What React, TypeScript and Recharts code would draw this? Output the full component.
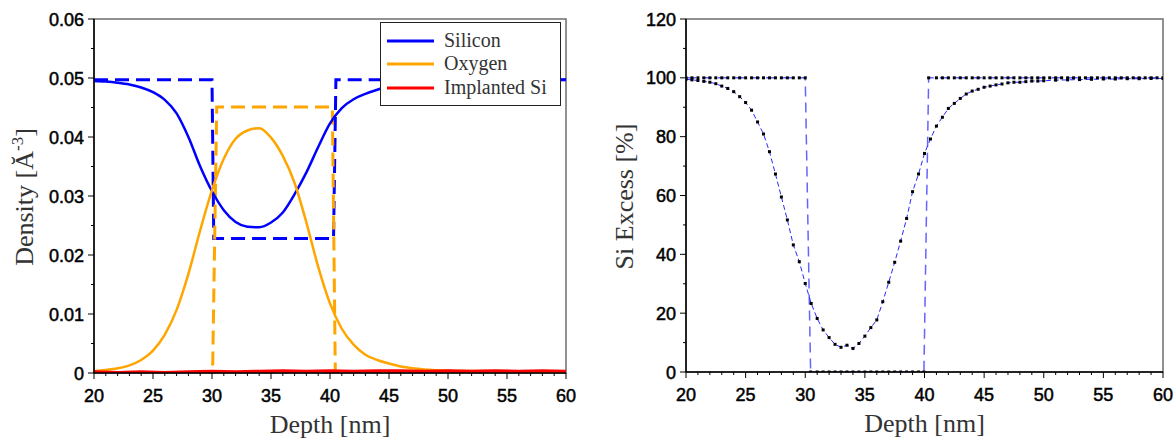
import React from "react";
import { LineChart, Line, XAxis, YAxis, ReferenceArea, Label } from "recharts";

// shared axis ticks
const depthTicks = [20, 21, 22, 23, 24, 25, 26, 27, 28, 29, 30, 31, 32, 33, 34, 35, 36, 37, 38, 39, 40, 41, 42, 43, 44, 45, 46, 47, 48, 49, 50, 51, 52, 53, 54, 55, 56, 57, 58, 59, 60];
const depthLabels = [20, 25, 30, 35, 40, 45, 50, 55, 60];
const densityTicks = [0, 0.005, 0.01, 0.015, 0.02, 0.025, 0.03, 0.035, 0.04, 0.045, 0.05, 0.055, 0.06];
const densityLabels = [0, 0.01, 0.02, 0.03, 0.04, 0.05, 0.06];
const excessTicks = [0, 10, 20, 30, 40, 50, 60, 70, 80, 90, 100, 110, 120];
const excessLabels = [0, 20, 40, 60, 80, 100, 120];

// left panel: simulated densities
const siDepth = [20, 21, 22, 23, 24, 25, 26, 27, 28, 29, 30, 31, 32, 33, 34, 35, 36, 37, 38, 39, 40, 41, 42, 43, 44, 45, 46, 48, 50, 55, 60];
const siDensity = [0.0495, 0.0494, 0.0492, 0.0489, 0.0484, 0.0476, 0.0463, 0.044, 0.04, 0.035, 0.0308, 0.0276, 0.0256, 0.0248, 0.0247, 0.0255, 0.0272, 0.0303, 0.034, 0.0383, 0.0423, 0.0449, 0.0464, 0.0473, 0.048, 0.0486, 0.049, 0.0494, 0.0496, 0.0496, 0.0497];

const oDepth = [20, 21, 22, 23, 24, 25, 26, 27, 28, 29, 30, 31, 32, 33, 34, 35, 36, 37, 38, 39, 40, 41, 42, 43, 44, 45, 46, 47, 48, 50, 55, 60];
const oDensity = [0.0003, 0.0005, 0.0008, 0.0013, 0.0022, 0.0038, 0.0065, 0.0107, 0.0168, 0.0242, 0.031, 0.0363, 0.0397, 0.0411, 0.0415, 0.0399, 0.0368, 0.0322, 0.0255, 0.0180, 0.0118, 0.0075, 0.0048, 0.0031, 0.0022, 0.0016, 0.0011, 0.0008, 0.0006, 0.0004, 0.0003, 0.0002];

const implDepth = [20, 22, 24, 26, 28, 30, 32, 34, 36, 38, 40, 42, 44, 46, 48, 50, 52, 54, 56, 58, 60];
const implDensity = [0.0002, 0.0001, 0.0002, 0.0001, 0.0002, 0.0003, 0.0002, 0.0003, 0.0004, 0.0003, 0.0004, 0.0003, 0.0004, 0.0004, 0.0003, 0.0004, 0.0003, 0.0004, 0.0003, 0.0004, 0.0003];

// left panel: nominal (step) profiles
const siStepDepth = [20, 30.0, 30.15, 40.3, 40.5, 60];
const siStepDensity = [0.0497, 0.0497, 0.0228, 0.0228, 0.0497, 0.0497];
const oStepDepth = [20, 30.05, 30.4, 40.2, 40.45, 60];
const oStepDensity = [0, 0, 0.0451, 0.0451, 0, 0];
const implStepDepth = [20, 60];
const implStepDensity = [0, 0];

// right panel
const profileDepth = [20, 20.5, 21, 21.5, 22, 22.5, 23, 23.5, 24, 24.5, 25, 25.5, 26, 26.5, 27, 27.5, 28, 28.5, 29, 29.5, 30, 30.5, 31, 31.5, 32, 32.5, 33, 33.5, 34, 34.5, 35, 35.5, 36, 36.5, 37, 37.5, 38, 38.5, 39, 39.5, 40, 40.5, 41, 41.5, 42, 42.5, 43, 43.5, 44, 44.5, 45, 45.5, 46, 46.5, 47, 47.5, 48, 48.5, 49, 49.5, 50, 51, 52, 53, 54, 55, 56, 57, 58, 59, 60];
const profileExcess = [99.5, 99.3, 99.1, 98.8, 98.5, 98.0, 97.2, 96.4, 95.3, 93.6, 91.6, 89.0, 85.0, 80.9, 74.9, 67.3, 59.5, 51.7, 43.2, 37.5, 30.1, 23.3, 18.2, 14.3, 11.7, 9.4, 8.4, 9.1, 8.0, 9.7, 12.2, 15.1, 17.7, 23.9, 30.5, 37.3, 44.5, 52.2, 61.3, 67.3, 74.3, 79.2, 83.6, 86.6, 89.6, 91.3, 93.0, 94.5, 95.5, 96.1, 96.8, 97.2, 97.6, 97.9, 98.3, 98.5, 98.5, 98.7, 98.9, 98.9, 99.0, 99.2, 99.3, 99.4, 99.5, 99.6, 99.6, 99.7, 99.7, 99.8, 99.8];

const stepDepth = [20, 20.5, 21, 21.5, 22, 22.5, 23, 23.5, 24, 24.5, 25, 25.5, 26, 26.5, 27, 27.5, 28, 28.5, 29, 29.5, 30, 30.45, 31, 31.5, 32, 32.5, 33, 33.5, 34, 34.5, 35, 35.5, 36, 36.5, 37, 37.5, 38, 38.5, 39, 39.5, 39.95, 40.35, 41, 41.5, 42, 42.5, 43, 43.5, 44, 44.5, 45, 45.5, 46, 46.5, 47, 47.5, 48, 48.5, 49, 49.5, 50, 50.5, 51, 51.5, 52, 52.5, 53, 53.5, 54, 54.5, 55, 55.5, 56, 56.5, 57, 57.5, 58, 58.5, 59, 59.5, 60];
const stepExcess = [100, 100, 100, 100, 100, 100, 100, 100, 100, 100, 100, 100, 100, 100, 100, 100, 100, 100, 100, 100, 100, 0, 0, 0, 0, 0, 0, 0, 0, 0, 0, 0, 0, 0, 0, 0, 0, 0, 0, 0, 0, 100, 100, 100, 100, 100, 100, 100, 100, 100, 100, 100, 100, 100, 100, 100, 100, 100, 100, 100, 100, 100, 100, 100, 100, 100, 100, 100, 100, 100, 100, 100, 100, 100, 100, 100, 100, 100, 100, 100, 100];

const pairs = (xs: number[], ys: number[]) => xs.map((d, i) => ({ depth: d, value: ys[i] }));

const sansFont = "'Liberation Sans', Arial, sans-serif";
const serifFont = "'Liberation Serif', 'Times New Roman', serif";
const BLUE = "#0000ff";
const ORANGE = "#ffa500";
const RED = "#ff0000";

function xTick(labels: number[]) {
  return (props: any) => {
    const { x, y, payload } = props;
    const major = labels.includes(payload.value);
    return (
      <g>
        <line x1={x} x2={x} y1={y} y2={y + (major ? 6 : 3)} stroke="#000" strokeWidth={1} />
        {major && (
          <text x={x} y={y + 29} textAnchor="middle" fontFamily={sansFont} fontSize={18} fill="#000" stroke="#000" strokeWidth={0.5}>
            {payload.value}
          </text>
        )}
      </g>
    );
  };
}

function yTick(labels: number[], fmt: (v: number) => string) {
  return (props: any) => {
    const { x, y, payload } = props;
    const major = labels.includes(payload.value);
    return (
      <g>
        <line x1={x} x2={x - (major ? 6 : 3)} y1={y} y2={y} stroke="#000" strokeWidth={1} />
        {major && (
          <text x={x - 10} y={y + 6.5} textAnchor="end" fontFamily={sansFont} fontSize={18} fill="#000" stroke="#000" strokeWidth={0.5}>
            {fmt(payload.value)}
          </text>
        )}
      </g>
    );
  };
}

const xTitle = (props: any) => {
  const vb = props.viewBox;
  return (
    <text x={vb.x + vb.width / 2} y={vb.y + 60} textAnchor="middle" fontFamily={serifFont} fontSize={26} fill="#333">
      Depth [nm]
    </text>
  );
};

const densityTitle = (props: any) => {
  const vb = props.viewBox;
  const cx = 33;
  const cy = vb.y + vb.height / 2 + 1;
  return (
    <text x={cx} y={cy} textAnchor="middle" transform={`rotate(-90 ${cx} ${cy})`} fontFamily={serifFont} fontSize={26} fill="#333">
      <tspan>Density [Ă</tspan>
      <tspan dy={-10} fontSize={17}>-3</tspan>
      <tspan dy={10}>]</tspan>
    </text>
  );
};

const excessTitle = (props: any) => {
  const vb = props.viewBox;
  const cx = 43;
  const cy = vb.y + vb.height / 2 + 1;
  return (
    <text x={cx} y={cy} textAnchor="middle" transform={`rotate(-90 ${cx} ${cy})`} fontFamily={serifFont} fontSize={26} fill="#333">
      Si Excess [%]
    </text>
  );
};

const squareDot = (props: any) => {
  const { cx, cy, index } = props;
  if (cx == null || cy == null) return <g key={`n-${index}`} />;
  return <rect key={`d-${index}`} x={cx - 1.5} y={cy - 1.5} width={3} height={3} fill="#000" />;
};

const legendItems = [
  { name: "Silicon", color: BLUE, y: 18 },
  { name: "Oxygen", color: ORANGE, y: 41 },
  { name: "Implanted Si", color: RED, y: 65 },
];

function DensityChart() {
  return (
    <div style={{ position: "absolute", left: 0, top: 0, width: 590, height: 441 }}>
      <LineChart width={590} height={441} margin={{ top: 19, right: 24, bottom: 0, left: 0 }}>
        <ReferenceArea x1={20} x2={60} y1={0} y2={0.06} fill="none" stroke="#6e6e6e" strokeWidth={1.5} />
        <XAxis
          dataKey="depth"
          type="number"
          domain={[20, 60]}
          ticks={depthTicks}
          interval={0}
          height={68}
          tickSize={0}
          tickMargin={0}
          tickLine={false}
          axisLine={{ stroke: "#000", strokeWidth: 1.5 }}
          tick={xTick(depthLabels)}
          allowDataOverflow
        >
          <Label content={xTitle} />
        </XAxis>
        <YAxis
          type="number"
          domain={[0, 0.06]}
          ticks={densityTicks}
          interval={0}
          width={94}
          tickSize={0}
          tickMargin={0}
          tickLine={false}
          axisLine={{ stroke: "#000", strokeWidth: 1.5 }}
          tick={yTick(densityLabels, (v) => (v === 0 ? "0" : v.toFixed(2)))}
          allowDataOverflow
        >
          <Label content={densityTitle} />
        </YAxis>
        <Line data={pairs(siStepDepth, siStepDensity)} dataKey="value" type="linear" stroke={BLUE} strokeWidth={3} strokeDasharray="14 7" dot={false} activeDot={false} isAnimationActive={false} />
        <Line data={pairs(oStepDepth, oStepDensity)} dataKey="value" type="linear" stroke={ORANGE} strokeWidth={3} strokeDasharray="14 7" dot={false} activeDot={false} isAnimationActive={false} />
        <Line data={pairs(implStepDepth, implStepDensity)} dataKey="value" type="linear" stroke={RED} strokeWidth={3} strokeDasharray="14 7" dot={false} activeDot={false} isAnimationActive={false} />
        <Line data={pairs(siDepth, siDensity)} dataKey="value" type="monotone" stroke={BLUE} strokeWidth={2.5} dot={false} activeDot={false} isAnimationActive={false} />
        <Line data={pairs(oDepth, oDensity)} dataKey="value" type="monotone" stroke={ORANGE} strokeWidth={2.5} dot={false} activeDot={false} isAnimationActive={false} />
        <Line data={pairs(implDepth, implDensity)} dataKey="value" type="linear" stroke={RED} strokeWidth={3} dot={false} activeDot={false} isAnimationActive={false} />
      </LineChart>
      <div style={{ position: "absolute", left: 380, top: 22, width: 181, height: 84, border: "1px solid #222", background: "#fff", boxSizing: "border-box" }}>
        <svg width={181} height={84} style={{ display: "block" }}>
          {legendItems.map((it) => (
            <g key={it.name}>
              <line x1={6} x2={53} y1={it.y} y2={it.y} stroke={it.color} strokeWidth={3} />
              <text x={63} y={it.y + 6} fontFamily={serifFont} fontSize={20} fill="#333">
                {it.name}
              </text>
            </g>
          ))}
        </svg>
      </div>
    </div>
  );
}

function ExcessChart() {
  return (
    <div style={{ position: "absolute", left: 590, top: 0, width: 585, height: 441 }}>
      <LineChart width={585} height={441} margin={{ top: 19, right: 12, bottom: 0, left: 0 }}>
        <ReferenceArea x1={20} x2={60} y1={0} y2={120} fill="none" stroke="#6e6e6e" strokeWidth={1.5} />
        <XAxis
          dataKey="depth"
          type="number"
          domain={[20, 60]}
          ticks={depthTicks}
          interval={0}
          height={69}
          tickSize={0}
          tickMargin={0}
          tickLine={false}
          axisLine={{ stroke: "#000", strokeWidth: 1.5 }}
          tick={xTick(depthLabels)}
          allowDataOverflow
        >
          <Label content={xTitle} />
        </XAxis>
        <YAxis
          type="number"
          domain={[0, 120]}
          ticks={excessTicks}
          interval={0}
          width={96}
          tickSize={0}
          tickMargin={0}
          tickLine={false}
          axisLine={{ stroke: "#000", strokeWidth: 1.5 }}
          tick={yTick(excessLabels, (v) => String(v))}
          allowDataOverflow
        >
          <Label content={excessTitle} />
        </YAxis>
        <Line data={pairs(stepDepth, stepExcess)} dataKey="value" type="linear" stroke="#6464ff" strokeWidth={1.5} strokeDasharray="10 6" dot={squareDot} activeDot={false} isAnimationActive={false} />
        <Line data={pairs(profileDepth, profileExcess)} dataKey="value" type="linear" stroke="#2828ff" strokeWidth={1} strokeDasharray="5 3" dot={squareDot} activeDot={false} isAnimationActive={false} />
      </LineChart>
    </div>
  );
}

export default function App() {
  return (
    <div style={{ position: "absolute", left: 0, top: 0, width: 1175, height: 441, background: "#fff" }}>
      <DensityChart />
      <ExcessChart />
    </div>
  );
}
